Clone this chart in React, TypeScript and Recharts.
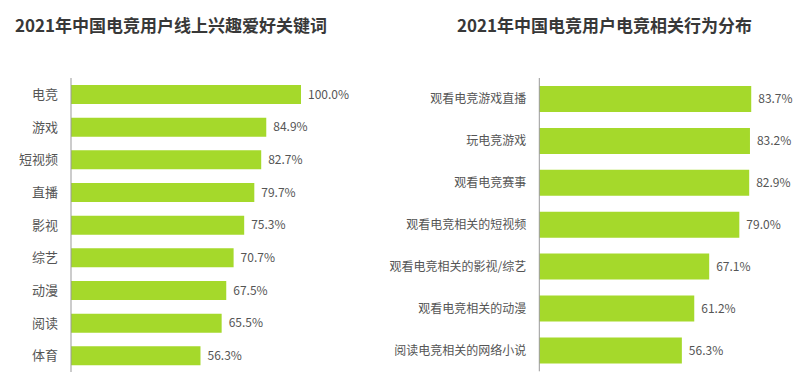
import React from 'react';
import { BarChart, Bar, XAxis, YAxis, LabelList } from 'recharts';

const interestCategories = ['电竞', '游戏', '短视频', '直播', '影视', '综艺', '动漫', '阅读', '体育'];
const interestValues = [100.0, 84.9, 82.7, 79.7, 75.3, 70.7, 67.5, 65.5, 56.3];

const behaviorCategories = [
  '观看电竞游戏直播',
  '玩电竞游戏',
  '观看电竞赛事',
  '观看电竞相关的短视频',
  '观看电竞相关的影视/综艺',
  '观看电竞相关的动漫',
  '阅读电竞相关的网络小说',
];
const behaviorValues = [83.7, 83.2, 82.9, 79.0, 67.1, 61.2, 56.3];

const leftTitle = '2021年中国电竞用户线上兴趣爱好关键词';
const rightTitle = '2021年中国电竞用户电竞相关行为分布';

const leftData = interestCategories.map((name, i) => ({ name, value: interestValues[i] }));
const rightData = behaviorCategories.map((name, i) => ({ name, value: behaviorValues[i] }));

const FONT = '"Noto Sans CJK SC", "Noto Sans", sans-serif';
const BAR = '#a5d92b';
const fmt = (v: any) => `${Number(v).toFixed(1)}%`;

const titleStyle: React.CSSProperties = {
  position: 'absolute',
  top: 13,
  fontSize: 17,
  lineHeight: '24px',
  fontWeight: 'bold',
  color: '#383838',
  whiteSpace: 'nowrap',
};

export default function App() {
  return (
    <div
      style={{
        position: 'absolute',
        left: 0,
        top: 0,
        width: 801,
        height: 381,
        background: '#ffffff',
        fontFamily: FONT,
        overflow: 'hidden',
      }}
    >
      <div style={{ ...titleStyle, left: 15 }}>{leftTitle}</div>
      <div style={{ ...titleStyle, left: 457 }}>{rightTitle}</div>

      <div style={{ position: 'absolute', left: 0, top: 0 }}>
        <BarChart
          width={380}
          height={381}
          data={leftData}
          layout="vertical"
          margin={{ top: 78, right: 79, bottom: 9, left: 0 }}
          barSize={19}
        >
          <XAxis type="number" domain={[0, 100]} hide />
          <YAxis
            type="category"
            dataKey="name"
            width={71}
            tickLine={false}
            tickSize={0}
            tickMargin={13}
            axisLine={{ stroke: '#999999' }}
            tick={{ fill: '#555555', fontSize: 13, fontFamily: FONT }}
            interval={0}
          />
          <Bar dataKey="value" fill={BAR} isAnimationActive={false}>
            <LabelList
              dataKey="value"
              position="right"
              offset={7}
              formatter={fmt}
              style={{ fill: '#555555', fontSize: 12, fontFamily: FONT }}
            />
          </Bar>
        </BarChart>
      </div>

      <div style={{ position: 'absolute', left: 380, top: 0 }}>
        <BarChart
          width={421}
          height={381}
          data={rightData}
          layout="vertical"
          margin={{ top: 78, right: 8.5, bottom: 9.7, left: 0 }}
          barSize={26}
        >
          <XAxis type="number" domain={[0, 100]} hide />
          <YAxis
            type="category"
            dataKey="name"
            width={159.3}
            tickLine={false}
            tickSize={0}
            tickMargin={13}
            axisLine={{ stroke: '#999999' }}
            tick={{ fill: '#555555', fontSize: 12, fontFamily: FONT }}
            interval={0}
          />
          <Bar dataKey="value" fill={BAR} isAnimationActive={false}>
            <LabelList
              dataKey="value"
              position="right"
              offset={7}
              formatter={fmt}
              style={{ fill: '#555555', fontSize: 12, fontFamily: FONT }}
            />
          </Bar>
        </BarChart>
      </div>
    </div>
  );
}
